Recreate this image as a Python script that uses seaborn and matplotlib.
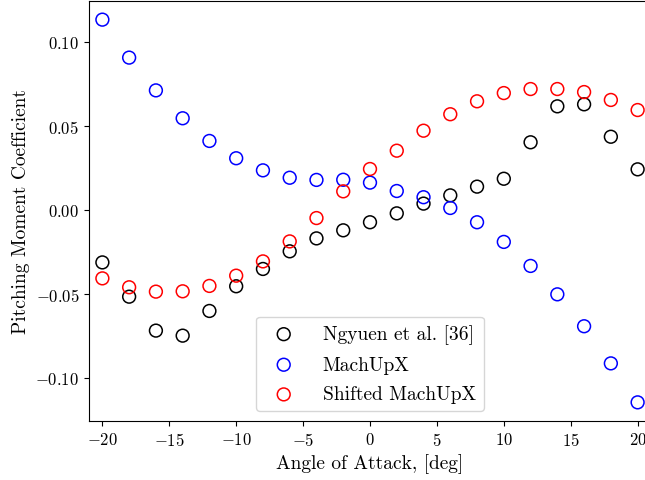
import numpy as np
import pandas as pd
import matplotlib
matplotlib.use("Agg")
import matplotlib.pyplot as plt
import seaborn as sns

# Angle of attack sweep [deg]
alpha = [-20, -18, -16, -14, -12, -10, -8, -6, -4, -2, 0,
         2, 4, 6, 8, 10, 12, 14, 16, 18, 20]

# Pitching moment coefficient, reference data
cm_nguyen = [-0.0312, -0.0516, -0.0718, -0.0748, -0.0601, -0.0454, -0.0351,
             -0.0246, -0.0169, -0.0121, -0.0073, -0.0020, 0.0038, 0.0087,
             0.0139, 0.0186, 0.0403, 0.0617, 0.0629, 0.0436, 0.0242]

# Pitching moment coefficient, MachUpX
cm_machupx = [0.1133, 0.0907, 0.0712, 0.0546, 0.0411, 0.0308, 0.0236,
              0.0192, 0.0179, 0.0180, 0.0163, 0.0113, 0.0076, 0.0012,
              -0.0073, -0.0190, -0.0333, -0.0502, -0.0692, -0.0913, -0.1145]

# Pitching moment coefficient, MachUpX shifted
cm_shifted = [-0.0407, -0.0460, -0.0486, -0.0484, -0.0452, -0.0391, -0.0306,
              -0.0187, -0.0048, 0.0111, 0.0244, 0.0353, 0.0472, 0.0570,
              0.0647, 0.0696, 0.0720, 0.0720, 0.0702, 0.0655, 0.0595]

series_names = ["Ngyuen et al. [36]", "MachUpX", "Shifted MachUpX"]
series_colors = ["black", "blue", "red"]

sns.set_theme(style="ticks")
plt.rcParams.update({
    "font.family": "serif",
    "font.serif": ["cmr10"],
    "mathtext.fontset": "cm",
    "axes.formatter.use_mathtext": True,
    "axes.unicode_minus": True,
    "axes.edgecolor": "black",
    "axes.linewidth": 0.8,
    "xtick.color": "black",
    "ytick.color": "black",
    "text.color": "black",
    "axes.labelcolor": "black",
})

fig = plt.figure(figsize=(6.45, 4.81), dpi=100)
ax = fig.add_axes([89 / 645, 59 / 481, 562 / 645, 420 / 481])

for name, vals, col in zip(series_names, [cm_nguyen, cm_machupx, cm_shifted], series_colors):
    df = pd.DataFrame({"alpha": alpha, "cm": vals})
    sns.scatterplot(data=df, x="alpha", y="cm", ax=ax, marker="o", s=85,
                    facecolors="none", edgecolor=col, linewidth=1.1,
                    label=name)

ax.set_xlim(-21, 21)
ax.set_ylim(-0.1256, 0.1244)
ax.set_xticks([-20, -15, -10, -5, 0, 5, 10, 15, 20])
ax.set_yticks([-0.10, -0.05, 0.0, 0.05, 0.10])
ax.yaxis.set_major_formatter(matplotlib.ticker.FuncFormatter(
    lambda v, p: ("$-%.2f$" % abs(v)) if v < -1e-9 else ("$%.2f$" % abs(v))))
ax.xaxis.set_major_formatter(matplotlib.ticker.FuncFormatter(
    lambda v, p: ("$-%d$" % abs(round(v))) if v < -1e-9 else ("$%d$" % abs(round(v)))))
ax.tick_params(labelsize=12, length=3.5, width=0.8)

ax.set_xlabel("Angle of Attack, [deg]", fontsize=14)
ax.set_ylabel("Pitching Moment Coefficient", fontsize=14)

ax.legend(loc="lower center", fontsize=14, frameon=True, framealpha=0.8,
          edgecolor="#cccccc", fancybox=True, handletextpad=1.0,
          labelspacing=0.6)

fig.savefig("out.png", dpi=100)
